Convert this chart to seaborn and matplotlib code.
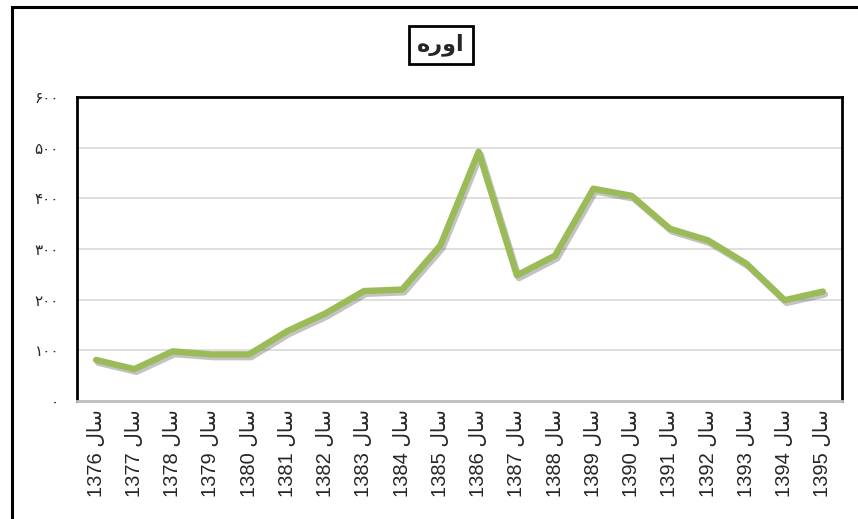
import seaborn as sns
import matplotlib.pyplot as plt
import matplotlib.patheffects as pe
from matplotlib.patches import Rectangle
import pandas as pd

# years (solar hijri) and urea values
years = [1376, 1377, 1378, 1379, 1380, 1381, 1382, 1383, 1384, 1385,
         1386, 1387, 1388, 1389, 1390, 1391, 1392, 1393, 1394, 1395]
values = [81, 63, 98, 92, 92, 138, 173, 217, 220, 307,
          492, 248, 287, 419, 405, 340, 317, 271, 199, 216]
yticks = [0, 100, 200, 300, 400, 500, 600]

# Persian text in visual order with presentation forms (matplotlib does no shaping)
sal = '\uFEDD\uFE8E\uFEB3'               # سال
title = '\uFEE9\uFEAD\uFEED\uFE8D'        # اوره
fa_digits = str.maketrans('0123456789', '۰۱۲۳۴۵۶۷۸۹')

labels = [f'{y} {sal}' for y in years]
df = pd.DataFrame({'label': labels, 'value': values})

sns.set_style('white')
plt.rcParams['font.family'] = ['Liberation Sans', 'DejaVu Sans']

fig = plt.figure(figsize=(8.58, 5.19), dpi=100)
ax = fig.add_axes([77 / 858, 1 - 401 / 519, 765 / 858, 304 / 519])

sns.lineplot(data=df, x='label', y='value', sort=False, color='#9BBB59',
             linewidth=4.6, ax=ax,
             path_effects=[pe.SimpleLineShadow(offset=(1.5, -2), shadow_color='#555555', alpha=0.35),
                           pe.Normal()])

ax.set_xlim(-0.5, len(years) - 0.5)
ax.set_ylim(0, 600)
ax.set_yticks(yticks)
ax.set_yticklabels([str(v).translate(fa_digits) for v in yticks],
                   family=['DejaVu Sans'], fontsize=11)
ax.set_xticks(range(len(years)))
ax.set_xticklabels(labels, rotation=90, fontsize=14.5)
ax.tick_params(axis='y', length=0, pad=13)
ax.tick_params(axis='x', length=0, pad=6)
ax.set_xlabel('')
ax.set_ylabel('')
ax.grid(axis='y', color='#D9D9D9', linewidth=1.2)
ax.set_axisbelow(True)

for s in ['left', 'top', 'right']:
    ax.spines[s].set_color('black')
    ax.spines[s].set_linewidth(2)
ax.spines['bottom'].set_color('#BFBFBF')
ax.spines['bottom'].set_linewidth(2)

# outer chart frame (only left and top edges are inside the picture)
fig.patches.append(Rectangle((12 / 858, -0.1), 1.2, 1 - 7 / 519 + 0.1,
                             transform=fig.transFigure, fill=False,
                             edgecolor='black', linewidth=2.2))

fig.text(441 / 858, 1 - 45 / 519, title, ha='center', va='center',
         fontsize=16, fontweight='bold', family=['DejaVu Sans'],
         bbox=dict(boxstyle='square,pad=0.35', facecolor='white',
                   edgecolor='black', linewidth=2))

plt.savefig('out.png', dpi=100)
